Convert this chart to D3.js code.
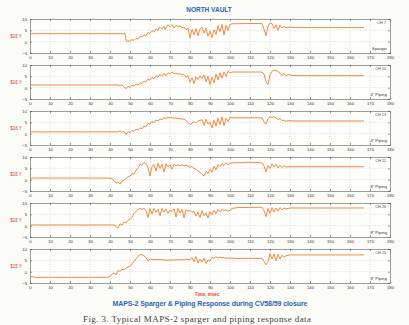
<!DOCTYPE html>
<html>
<head>
<meta charset="utf-8">
<script src="https://cdn.jsdelivr.net/npm/d3@7"></script>
<style>
  body { margin: 0; background: #fbfbf7; }
  svg { display: block; }
</style>
</head>
<body>
<script>
// time axis ticks (msec) and amplitude ticks
var xTicks = [0, 10, 20, 30, 40, 50, 60, 70, 80, 90, 100, 110, 120, 130, 140, 150, 160, 170, 180];
var yTicks = [-5, 0, 5, 10];

var channels = ["CH 7", "CH 10", "CH 13", "CH 11", "CH 26", "CH 25"];
var locations = ["Sparger", "4\" Piping", "4\" Piping", "8\" Piping", "8\" Piping", "8\" Piping"];
var leftLabels = ["$16 Y", "$16 Y", "$16 Y", "$16 Y", "$16 Y", "$15 Y"];

// [time msec, value]
var ch7 = [[0,3.5],[47.5,3.5],[48,0.8],[48.5,0.0],[49,0.4],[50,0.2],[51,0.9],[52,0.6],[53,1.5],[54,1.2],[55,2.4],[56,2.0],[57,3.1],[58,2.6],[59,4.0],[60,3.6],[61,4.9],[62,4.2],[63,5.6],[64,5.0],[64.5,6.2],[65,6.3],[66,5.6],[67,6.8],[67.5,5.4],[68,6.1],[69,7.4],[70,6.6],[71,7.6],[72,6.0],[73,7.1],[74,6.7],[75,6.9],[76,6.2],[77,6.5],[78,5.2],[79,6.0],[80,1.6],[81,5.4],[82,3.0],[83,5.8],[84,2.6],[85,5.6],[86,6.4],[87,3.8],[88,6.0],[89,2.4],[90,4.6],[91,1.8],[92,5.2],[93,3.2],[94,7.0],[95,4.4],[96,7.6],[97,3.0],[98,7.2],[99,5.0],[100,7.6],[101,7.9],[110,8.0],[116,8.0],[117,5.6],[118,2.6],[119,6.8],[120,8.2],[121,8.0],[122,5.8],[123,7.4],[124,5.0],[125,7.2],[126,6.0],[127,6.8],[128,6.1],[130,6.4],[133,6.2],[167,6.2]];
var ch10 = [[0,1.2],[44,1.2],[45,0.8],[46,1.3],[47,0.2],[48,-0.4],[49,0.6],[50,0.1],[51,1.0],[52,0.7],[53,1.6],[54,1.2],[55,2.2],[56,1.9],[57,2.9],[58,2.5],[59,3.8],[60,3.3],[61,4.5],[62,3.9],[63,5.3],[64,4.6],[65,5.9],[66,5.0],[67,6.4],[68,5.2],[69,6.6],[70,6.0],[71,6.8],[72,6.2],[73,6.4],[74,6.0],[75,6.1],[76,5.6],[77,5.8],[78,4.6],[79,5.2],[80,2.4],[81,4.4],[82,1.8],[83,4.8],[84,3.6],[85,5.2],[86,4.0],[87,5.6],[88,2.6],[89,5.0],[90,1.4],[91,4.6],[92,2.2],[93,6.0],[94,3.4],[95,6.6],[96,4.2],[97,7.0],[98,5.0],[99,7.2],[100,6.6],[101,6.9],[116,6.9],[117,6.0],[118,2.6],[119,1.4],[120,5.6],[121,7.2],[122,7.8],[123,7.6],[124,7.2],[125,6.4],[126,5.4],[127,6.2],[128,5.2],[129,5.8],[131,5.4],[134,5.3],[167,5.3]];
var ch13 = [[0,0.8],[44,0.8],[45,1.2],[46,0.6],[47,1.0],[48,-0.3],[49,0.8],[50,0.4],[51,1.4],[52,1.0],[53,2.0],[54,1.6],[55,2.6],[56,2.2],[57,3.4],[58,3.0],[59,4.6],[60,4.2],[61,5.4],[62,4.8],[63,6.0],[64,5.6],[65,6.5],[66,6.2],[67,7.0],[68,6.7],[69,7.2],[70,7.0],[71,7.1],[72,6.8],[73,6.9],[74,6.6],[75,6.7],[76,6.4],[77,6.5],[78,5.8],[79,5.0],[80,4.0],[81,4.6],[82,5.2],[83,4.8],[84,5.6],[85,5.8],[86,6.2],[87,3.6],[88,6.4],[89,4.2],[90,5.0],[91,2.6],[92,5.8],[93,3.4],[94,6.8],[95,4.0],[96,7.4],[97,3.6],[98,6.8],[99,5.4],[100,7.2],[101,7.0],[116,7.0],[117,5.2],[118,4.2],[119,6.6],[120,7.4],[121,7.2],[122,7.4],[123,7.0],[124,6.2],[125,6.8],[126,5.8],[127,6.0],[128,5.4],[129,5.8],[131,5.6],[167,5.6]];
var ch11 = [[0,0.7],[40,0.7],[41,0.4],[42,-0.4],[43,-1.6],[44,-1.0],[45,-2.0],[46,-0.6],[47,-0.2],[48,0.6],[49,1.2],[50,1.6],[51,2.8],[52,2.4],[53,4.2],[54,5.2],[55,6.8],[56,6.4],[57,7.6],[58,7.0],[59,5.4],[60,1.6],[61,5.8],[62,6.6],[63,3.8],[64,7.2],[65,5.0],[66,6.8],[67,3.4],[68,7.0],[69,5.6],[70,6.6],[71,4.6],[72,6.8],[73,6.0],[74,6.6],[75,6.2],[76,6.5],[77,6.2],[78,6.3],[79,6.0],[80,5.4],[81,5.8],[82,5.0],[83,4.6],[84,3.8],[85,3.2],[86,2.4],[87,1.6],[88,3.6],[89,2.8],[90,4.6],[91,3.2],[92,6.0],[93,4.4],[94,6.6],[95,5.8],[96,7.0],[97,6.2],[98,7.4],[99,6.6],[100,7.2],[101,7.4],[106,7.5],[110,7.7],[114,7.5],[116,7.4],[117,6.0],[118,3.4],[119,6.2],[120,5.0],[121,7.0],[122,5.6],[123,6.8],[124,5.2],[125,6.4],[126,5.4],[127,6.2],[128,5.6],[130,5.7],[167,5.7]];
var ch26 = [[0,0.3],[42,0.3],[43,-0.4],[44,-1.0],[45,0.8],[46,0.2],[47,1.6],[48,1.2],[49,2.4],[50,2.8],[51,3.6],[52,5.4],[53,6.4],[54,7.0],[55,7.6],[56,7.2],[57,7.6],[58,6.8],[59,3.6],[60,7.4],[61,5.2],[62,7.6],[63,5.8],[64,7.2],[65,4.4],[66,7.6],[67,6.0],[68,7.4],[69,5.4],[70,7.0],[71,6.2],[72,7.4],[73,3.8],[74,7.6],[75,5.6],[76,7.2],[77,3.4],[78,7.0],[79,6.4],[80,6.8],[81,5.8],[82,6.4],[83,4.2],[84,6.0],[85,3.6],[86,6.6],[87,4.4],[88,5.6],[89,3.4],[90,6.2],[91,4.8],[92,6.8],[93,5.2],[94,7.2],[95,6.0],[96,7.4],[97,6.6],[98,7.0],[99,6.4],[100,6.8],[101,7.6],[104,8.0],[116,8.1],[117,6.6],[118,4.0],[119,7.6],[120,5.4],[121,8.0],[122,6.0],[123,7.8],[124,6.4],[125,8.0],[126,7.0],[127,7.8],[128,7.4],[130,7.8],[167,7.8]];
var ch25 = [[0,-2.5],[1,-2.1],[2,-2.5],[39,-2.5],[40,-2.0],[41,-1.2],[42,-0.6],[43,-1.4],[44,0.4],[45,0.2],[46,1.0],[47,0.8],[48,1.6],[49,2.0],[50,2.4],[51,3.4],[52,4.6],[53,5.6],[54,6.8],[55,7.4],[56,7.6],[57,7.0],[58,6.2],[59,4.6],[60,5.6],[61,5.2],[62,5.5],[63,5.3],[64,5.4],[65,5.2],[66,5.3],[67,5.1],[68,5.2],[69,5.0],[70,5.2],[71,5.1],[72,5.2],[73,5.2],[74,5.3],[75,5.2],[76,5.3],[77,5.2],[78,5.4],[79,5.3],[80,5.4],[81,6.2],[82,4.4],[83,6.6],[84,3.8],[85,5.6],[86,4.2],[87,6.0],[88,3.6],[89,5.2],[90,4.6],[91,6.4],[92,5.8],[93,6.6],[94,6.0],[95,6.4],[96,6.1],[97,6.2],[98,5.9],[100,6.0],[104,5.8],[110,5.9],[116,5.8],[117,4.6],[118,3.0],[119,4.4],[120,8.0],[121,5.6],[122,7.8],[123,4.8],[124,7.6],[125,5.6],[126,7.2],[127,6.4],[128,7.0],[130,7.4],[167,7.4]];

var traces = [ch7, ch10, ch13, ch11, ch26, ch25];

var W = 409, H = 325;
var left = 30, right = 390;
var panelTop = 19, panelH = 34, pitch = 46;

var svg = d3.select("body").append("svg")
    .attr("width", W)
    .attr("height", H);

svg.append("rect").attr("width", W).attr("height", H).attr("fill", "#fbfbf7");

var x = d3.scaleLinear().domain([0, 180]).range([left, right]);

svg.append("text")
    .attr("x", 209).attr("y", 12)
    .attr("text-anchor", "middle")
    .attr("font-family", "Liberation Sans, Arial, sans-serif")
    .attr("font-weight", "bold")
    .attr("font-size", "6.5px")
    .attr("fill", "#2f63b8")
    .text("NORTH VAULT");

traces.forEach(function(data, i) {
    var top = panelTop + i * pitch;
    var y = d3.scaleLinear().domain([-5, 10]).range([top + panelH, top]);
    var g = svg.append("g");

    g.append("rect")
        .attr("x", left).attr("y", top)
        .attr("width", right - left).attr("height", panelH)
        .attr("fill", "#fefefc");

    // dotted grid
    g.selectAll(".vgrid").data(xTicks.slice(1, -1)).enter().append("line")
        .attr("x1", function(d) { return x(d); }).attr("x2", function(d) { return x(d); })
        .attr("y1", top).attr("y2", top + panelH)
        .attr("stroke", "#b8bcb8").attr("stroke-width", 0.5)
        .attr("stroke-dasharray", "1,1.5");
    g.selectAll(".hgrid").data([0, 5]).enter().append("line")
        .attr("x1", left).attr("x2", right)
        .attr("y1", function(d) { return y(d); }).attr("y2", function(d) { return y(d); })
        .attr("stroke", "#b8bcb8").attr("stroke-width", 0.5)
        .attr("stroke-dasharray", "1,1.5");

    // axes with inward ticks
    var bottomAxis = d3.axisBottom(x).tickValues(xTicks).tickSize(-2).tickPadding(3);
    var topAxis = d3.axisTop(x).tickValues(xTicks).tickSize(-2).tickFormat("");
    var leftAxis = d3.axisLeft(y).tickValues(yTicks).tickSize(-2).tickPadding(3);
    var rightAxis = d3.axisRight(y).tickValues(yTicks).tickSize(-2).tickFormat("");

    var axes = [
        g.append("g").attr("transform", "translate(0," + (top + panelH) + ")").call(bottomAxis),
        g.append("g").attr("transform", "translate(0," + top + ")").call(topAxis),
        g.append("g").attr("transform", "translate(" + left + ",0)").call(leftAxis),
        g.append("g").attr("transform", "translate(" + right + ",0)").call(rightAxis)
    ];
    axes.forEach(function(a) {
        a.select(".domain").attr("stroke", "#7d887d").attr("stroke-width", 0.8);
        a.selectAll(".tick line").attr("stroke", "#555").attr("stroke-width", 0.6);
        a.selectAll(".tick text")
            .attr("font-family", "Liberation Sans, Arial, sans-serif")
            .attr("font-size", "4.2px")
            .attr("fill", "#333");
    });

    g.append("text")
        .attr("x", 16).attr("y", top + panelH / 2 + 1.5)
        .attr("text-anchor", "middle")
        .attr("font-family", "Liberation Sans, Arial, sans-serif")
        .attr("font-size", "4.5px")
        .attr("fill", "#c84030")
        .text(leftLabels[i]);

    g.append("text")
        .attr("x", right - 4).attr("y", top + 5)
        .attr("text-anchor", "end")
        .attr("font-family", "Liberation Sans, Arial, sans-serif")
        .attr("font-size", "3.8px")
        .attr("fill", "#444")
        .text(channels[i]);

    g.append("text")
        .attr("x", right - 3).attr("y", top + panelH - 3)
        .attr("text-anchor", "end")
        .attr("font-family", "Liberation Sans, Arial, sans-serif")
        .attr("font-size", "4.2px")
        .attr("fill", "#333")
        .text(locations[i]);

    var line = d3.line()
        .x(function(d) { return x(d[0]); })
        .y(function(d) { return y(d[1]); });

    g.append("path")
        .datum(data)
        .attr("fill", "none")
        .attr("stroke", "#ef7d2e")
        .attr("stroke-width", 0.9)
        .attr("stroke-linejoin", "round")
        .attr("d", line);
});

svg.append("text")
    .attr("x", 207).attr("y", 296)
    .attr("text-anchor", "middle")
    .attr("font-family", "Liberation Sans, Arial, sans-serif")
    .attr("font-weight", "bold")
    .attr("font-size", "4.5px")
    .attr("fill", "#e0502a")
    .text("Time, msec");

svg.append("text")
    .attr("x", 210).attr("y", 306)
    .attr("text-anchor", "middle")
    .attr("font-family", "Liberation Sans, Arial, sans-serif")
    .attr("font-weight", "bold")
    .attr("font-size", "7px")
    .attr("textLength", 195)
    .attr("fill", "#2f63b8")
    .text("MAPS-2 Sparger & Piping Response during CV58/59 closure");

svg.append("text")
    .attr("x", 197).attr("y", 322)
    .attr("text-anchor", "middle")
    .attr("font-family", "Liberation Serif, Times New Roman, serif")
    .attr("font-size", "9px")
    .attr("textLength", 228)
    .attr("fill", "#444")
    .text("Fig. 3. Typical MAPS-2 sparger and piping response data");
</script>
</body>
</html>
